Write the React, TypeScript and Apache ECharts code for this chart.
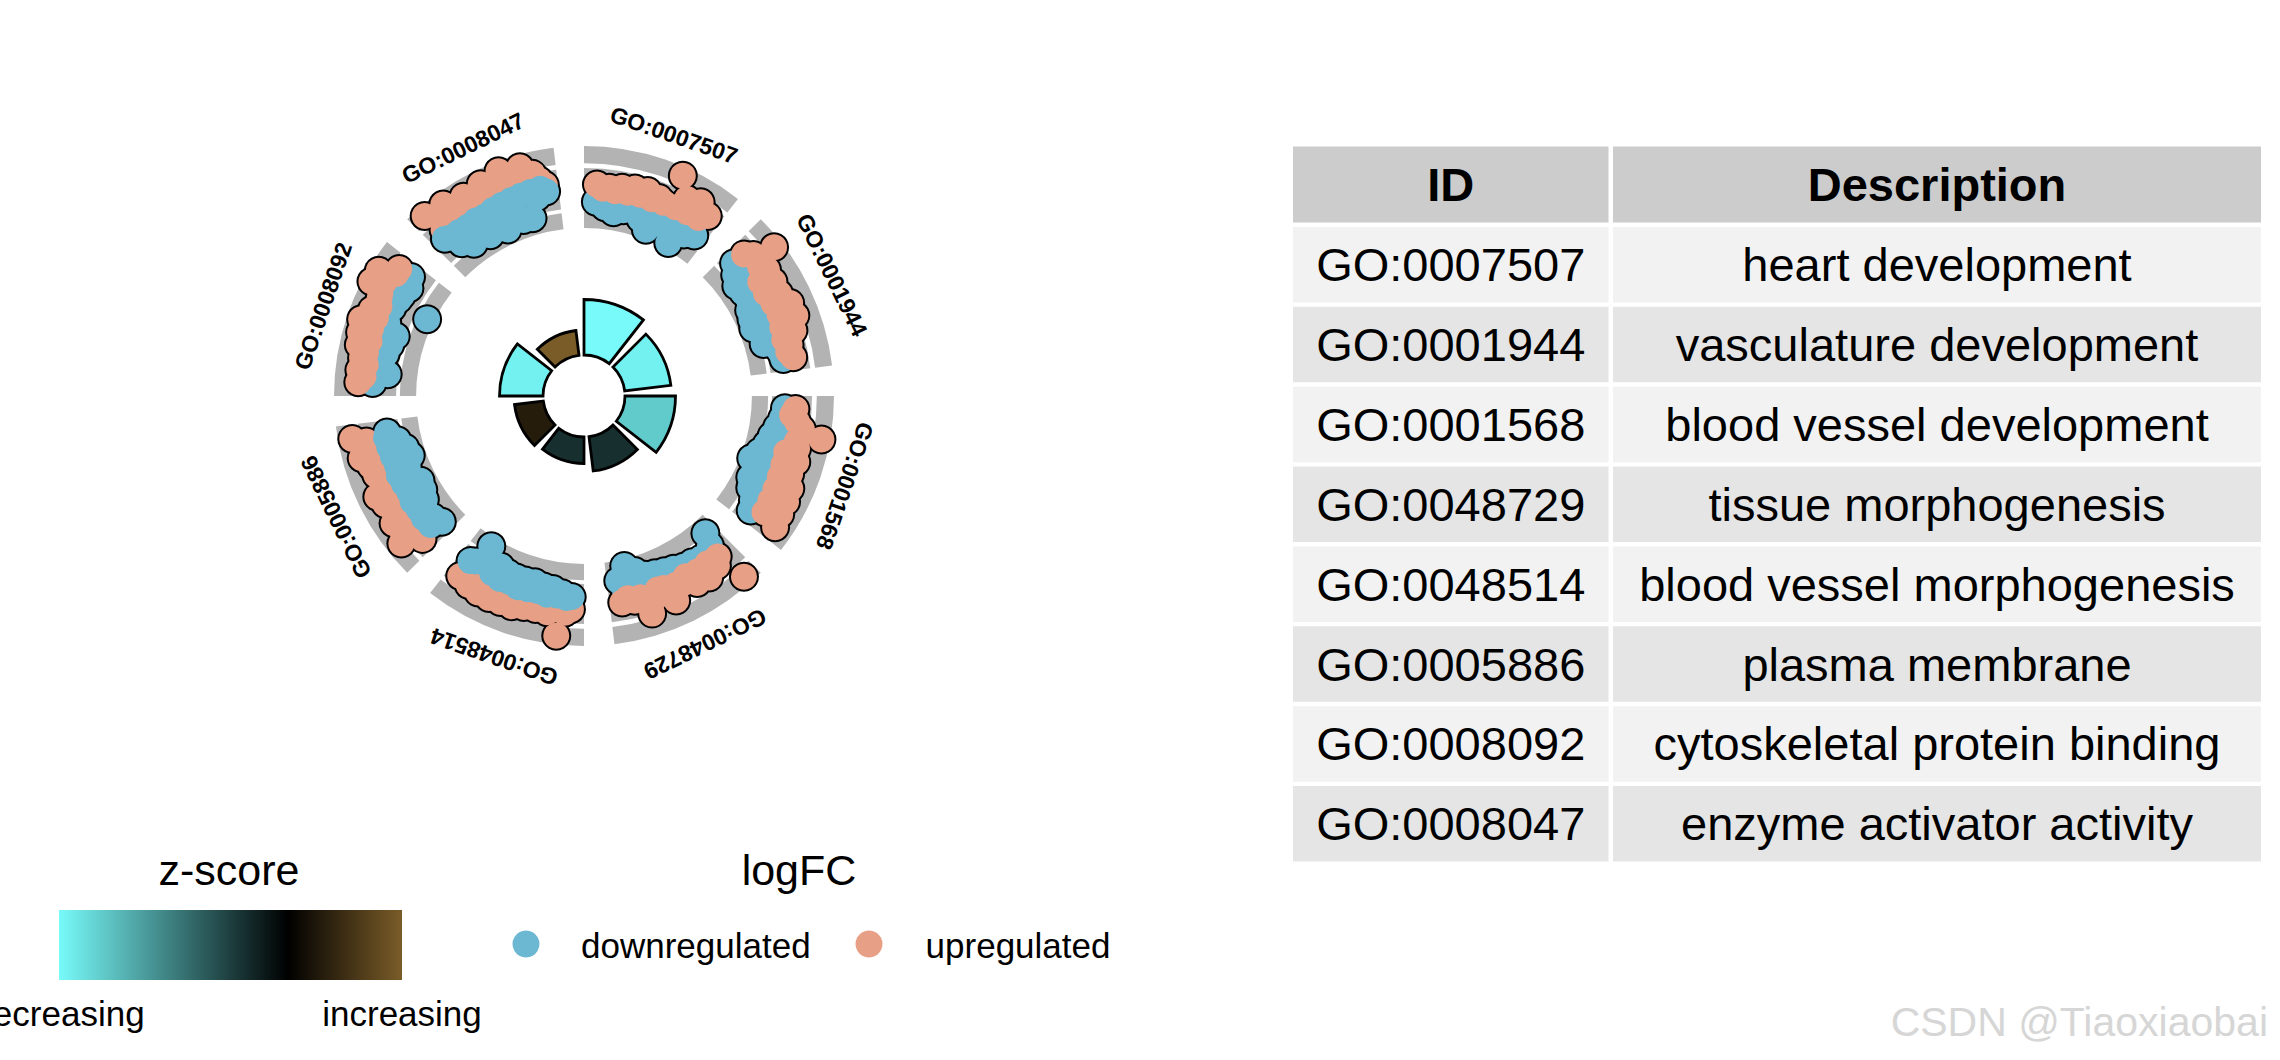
import React, { useEffect, useRef } from "react";
import * as echarts from "echarts";

// ---------------- Data ----------------
const TERM_IDS = [
  "GO:0007507",
  "GO:0001944",
  "GO:0001568",
  "GO:0048729",
  "GO:0048514",
  "GO:0005886",
  "GO:0008092",
  "GO:0008047",
];
const TERM_DESCRIPTIONS = [
  "heart development",
  "vasculature development",
  "blood vessel development",
  "tissue morphogenesis",
  "blood vessel morphogenesis",
  "plasma membrane",
  "cytoskeletal protein binding",
  "enzyme activator activity",
];
// inner bar height of each term
const BAR_HEIGHT = [5.55, 4.65, 5.05, 3.45, 2.65, 2.9, 4.35, 2.5];
// z-score of each term (bar colour)
const Z_SCORE = [-4.0, -3.84, -3.24, -0.76, -0.76, 0.6, -3.84, 2.0];
// which group of genes lies on top in each term's cluster
const UP_ON_TOP = [true, true, true, true, false, false, true, false];

// logFC of the genes of each term, in their order around the circle
const UP_LOGFC = [
  [0.9, 0.5, 0.7, 0.4, 0.9, 0.5, 1.1, 0.6, 1.2, 0.5, 0.9, 0.6, 4.0, 0.7, 2.0, 0.8, 2.4, 0.9, 1.6],
  [1.1, 1.8, 4.0, 1.6, 2.0, 0.7, 1.9, 0.6, 1.8, 0.8, 2.4, 0.9, 2.4, 0.7, 1.7, 0.5, 0.9, 0.6, 1.0],
  [0.9, 0.6, 1.2, 1.8, 4.0, 1.5, 1.7, 0.7, 2.0, 0.8, 1.8, 0.9, 2.4, 1.0, 2.6, 1.1, 2.7, 1.2, 3.0],
  [4.0, 0.6, 1.3, 0.5, 1.8, 0.6, 1.6, 0.4, 0.9, 0.7, 2.2, 0.5, 0.4, 1.2, 2.6, 0.6, 0.8, 0.4, 0.7],
  [1.1, 1.5, 4.0, 1.3, 1.7, 0.7, 1.6, 0.8, 1.7, 0.7, 2.0, 0.9, 2.0, 0.8, 2.1, 1.0, 2.1, 0.8, 1.9, 0.9, 1.6],
  [1.3, 0.8, 3.3, 1.2, 2.4, 0.9, 2.7, 1.0, 1.1, 1.5, 2.4, 0.8, 2.8, 1.0, 0.9, 1.4, 2.0, 0.9, 2.2, 1.1, 2.9, 1.0, 1.1, 2.0, 3.4],
  [2.4, 1.9, 2.4, 1.8, 2.3, 2.0, 2.9, 1.9, 3.1, 2.1, 3.4, 2.0, 2.7, 2.1, 2.4, 2.6, 4.0, 2.8, 3.9, 2.2, 2.2],
  [3.9, 1.5, 2.4, 1.3, 3.6, 1.2, 2.0, 1.4, 3.1, 1.2, 1.8, 1.3, 3.4, 1.4, 2.2, 1.6, 3.9, 1.8, 2.3, 1.9, 3.6, 2.0, 2.6, 1.8, 1.2],
];
const DOWN_LOGFC = [
  [-0.9, -0.4, -1.4, -0.5, -1.8, -0.3, -1.4, -0.6, -1.2, -0.4, -1.8, -0.5, -2.7, -0.6, -1.1, -0.4, -1.6, -0.7, -3.0, -0.6, -1.4, -0.4, -0.9],
  [-0.3, -0.2, -1.0, -0.3, -1.6, -0.4, -1.4, -0.2, -1.3, -0.4, -1.8, -0.3, -2.0, -0.5, -2.2, -0.3, -0.9, -0.2, -1.7, -0.4, -0.3, -0.1, -0.05],
  [-0.2, -0.1, -0.4, -0.2, -0.8, -0.3, -1.2, -0.2, -1.5, -0.4, -2.0, -0.3, -2.6, -0.5, -0.8, -0.2, -1.9, -0.4, -1.4, -0.2, -0.5, -0.05, -0.1],
  [-2.1, -0.8, -0.1, -0.2, -0.3, -0.1, -0.5, -0.2, -0.6, -0.3, -0.9, -0.2, -1.1, -0.3, -1.3, -0.4, -1.5, -0.3, -2.2, -0.6, -3.0, -0.5, -1.6],
  [-0.2, -0.05, -0.5, -0.2, -0.8, -0.1, -0.9, -0.3, -1.1, -0.2, -1.0, -0.1, -1.0, -0.3, -1.1, -0.2, -1.4, -0.4, -1.0, -1.6, -2.8, -0.6, -0.3],
  [-1.4, -0.3, -1.0, -0.2, -0.8, -0.3, -1.4, -0.2, -1.8, -0.4, -2.0, -0.3, -1.2, -0.2, -1.4, -0.4, -2.1, -0.3, -1.8, -0.2, -1.2, -0.1, -0.3],
  [0.9, 1.0, -0.6, 1.0, 0.2, 1.1, -0.05, 1.0, -0.3, 0.9, -0.6, 1.0, 0.7, 1.2, 1.1, 0.8, -3.0, 0.6, 0.5, 1.0, 0.2, 0.9, 0.7],
  [0.7, 0.4, -0.8, 0.3, -1.6, 0.2, -0.3, 0.3, -1.8, 0.2, -0.5, 0.4, -2.1, 0.5, -0.8, 0.6, -1.8, 0.7, -1.9, 0.8, 0.1, 0.9, 0.5],
];
// grey guide bands of the gene ring (logFC units)
const BAND_RANGES = [
  [-3.7, -2.0],
  [-1.6, 2.6],
  [3.1, 4.9],
];
const TABLE_HEADER = ["ID", "Description"];
const Z_LEGEND_TITLE = "z-score";
const Z_LEGEND_LABELS = ["decreasing", "increasing"];
const LFC_LEGEND_TITLE = "logFC";
const LFC_LEGEND_LABELS = ["downregulated", "upregulated"];
const WATERMARK = "CSDN @Tiaoxiaobai";

// ---------------- Styles / layout ----------------
const FONT = "'Liberation Sans', Arial, Helvetica, sans-serif";
const CX = 584;
const CY = 396;
const SECTOR_STEP = 45;
const SECTOR_SPAN = 38;
const GENE_PAD = 3.5;
const LABEL_R = 7.62;
const UP_COLOR = "#E79F86";
const DOWN_COLOR = "#6CB7D2";
const BAND_COLOR = "#B3B3B3";
const Z_COLORS = ["#78FAFA", "#3C7D7D", "#000000", "#7A5C28"];
const Z_MIN = -4;
const Z_MAX = 2;

function polarSector(params: any, api: any, rIn: number, rOut: number, a0: number, a1: number) {
  const cs = params.coordSys;
  const cx = cs.cx;
  const cy = cs.cy;
  const pIn = api.coord([rIn, a0]);
  const pOut = api.coord([rOut, a0]);
  const pEnd = api.coord([rOut, a1]);
  const r0 = Math.hypot(pIn[0] - cx, pIn[1] - cy);
  const r = Math.hypot(pOut[0] - cx, pOut[1] - cy);
  const t0 = Math.atan2(pOut[1] - cy, pOut[0] - cx);
  let t1 = Math.atan2(pEnd[1] - cy, pEnd[0] - cx);
  while (t1 <= t0) t1 += Math.PI * 2;
  return { cx, cy, r0, r, startAngle: t0, endAngle: t1, clockwise: true };
}

export default function App() {
  const ref = useRef<HTMLDivElement>(null);

  useEffect(() => {
    if (!ref.current) return;
    const chart = echarts.init(ref.current, null, { renderer: "svg" });

    const starts = TERM_IDS.map((_, k) => k * SECTOR_STEP);

    const bandData: number[][] = [];
    starts.forEach((s) =>
      BAND_RANGES.forEach(([a, b]) => bandData.push([a, b, s, s + SECTOR_SPAN]))
    );
    const barData = BAR_HEIGHT.map((h, k) => [h, starts[k], starts[k] + SECTOR_SPAN, Z_SCORE[k]]);

    const genes: { angle: number; lfc: number; color: string }[] = [];
    const spread = (vals: number[], s: number, color: string) =>
      vals.forEach((v, i) =>
        genes.push({
          angle: s + GENE_PAD + (i * (SECTOR_SPAN - 2 * GENE_PAD)) / (vals.length - 1),
          lfc: v,
          color,
        })
      );
    starts.forEach((s, k) => {
      if (UP_ON_TOP[k]) {
        spread(DOWN_LOGFC[k], s, DOWN_COLOR);
        spread(UP_LOGFC[k], s, UP_COLOR);
      } else {
        spread(UP_LOGFC[k], s, UP_COLOR);
        spread(DOWN_LOGFC[k], s, DOWN_COLOR);
      }
    });

    const labelData = starts.map((s) => [LABEL_R, s + SECTOR_SPAN / 2]);

    // ---------- graphic: legend, table, watermark ----------
    const g: any[] = [];
    const txt = (x: number, y: number, text: string, size: number, extra: any = {}) => ({
      type: "text",
      x,
      y,
      silent: true,
      style: {
        text,
        fontSize: size,
        fontFamily: FONT,
        fill: "#000",
        align: "center",
        verticalAlign: "middle",
        ...extra,
      },
    });

    // table
    const TX = 1293;
    const COL1_W = 315.5;
    const COL_GAP = 4.5;
    const COL2_W = 648;
    const HEAD_Y = 146.6;
    const HEAD_H = 75.8;
    const ROW_Y0 = 227;
    const ROW_PITCH = 79.86;
    const ROW_H = 75.5;
    const C1 = TX + COL1_W / 2;
    const C2 = TX + COL1_W + COL_GAP + COL2_W / 2;
    g.push({ type: "rect", silent: true, shape: { x: TX, y: HEAD_Y, width: COL1_W, height: HEAD_H }, style: { fill: "#CCCCCC" } });
    g.push({ type: "rect", silent: true, shape: { x: TX + COL1_W + COL_GAP, y: HEAD_Y, width: COL2_W, height: HEAD_H }, style: { fill: "#CCCCCC" } });
    g.push(txt(C1, HEAD_Y + HEAD_H / 2, TABLE_HEADER[0], 47, { fontWeight: "bold" }));
    g.push(txt(C2, HEAD_Y + HEAD_H / 2, TABLE_HEADER[1], 47, { fontWeight: "bold" }));
    TERM_IDS.forEach((id, i) => {
      const y = ROW_Y0 + i * ROW_PITCH;
      const fill = i % 2 === 0 ? "#F2F2F2" : "#E5E5E5";
      g.push({ type: "rect", silent: true, shape: { x: TX, y, width: COL1_W, height: ROW_H }, style: { fill } });
      g.push({ type: "rect", silent: true, shape: { x: TX + COL1_W + COL_GAP, y, width: COL2_W, height: ROW_H }, style: { fill } });
      g.push(txt(C1, y + ROW_H / 2, id, 47));
      g.push(txt(C2, y + ROW_H / 2, TERM_DESCRIPTIONS[i], 47));
    });

    // z-score legend
    g.push(txt(229, 870, Z_LEGEND_TITLE, 43));
    g.push({
      type: "rect",
      silent: true,
      shape: { x: 59, y: 910, width: 343, height: 70 },
      style: {
        fill: new echarts.graphic.LinearGradient(0, 0, 1, 0, [
          { offset: 0, color: Z_COLORS[0] },
          { offset: (0 - Z_MIN) / (Z_MAX - Z_MIN), color: Z_COLORS[2] },
          { offset: 1, color: Z_COLORS[3] },
        ]),
      },
    });
    g.push(txt(59, 1013, Z_LEGEND_LABELS[0], 35));
    g.push(txt(402, 1013, Z_LEGEND_LABELS[1], 35));

    // logFC legend
    g.push(txt(799, 870, LFC_LEGEND_TITLE, 43));
    g.push({ type: "circle", silent: true, shape: { cx: 526, cy: 944, r: 13.5 }, style: { fill: DOWN_COLOR } });
    g.push(txt(581, 945, LFC_LEGEND_LABELS[0], 35, { align: "left" }));
    g.push({ type: "circle", silent: true, shape: { cx: 869, cy: 944, r: 13.5 }, style: { fill: UP_COLOR } });
    g.push(txt(925.6, 945, LFC_LEGEND_LABELS[1], 35, { align: "left" }));

    // watermark
    g.push(txt(2268, 1022, WATERMARK, 41, { align: "right", fill: "#D6D6D6" }));

    const hiddenAxis = {
      show: false,
      axisLine: { show: false },
      axisTick: { show: false },
      axisLabel: { show: false },
      splitLine: { show: false },
    };

    chart.setOption({
      animation: false,
      backgroundColor: "#FFFFFF",
      polar: [
        { center: [CX, CY], radius: [41, 101] },
        { center: [CX, CY], radius: [166, 250] },
      ],
      angleAxis: [
        { polarIndex: 0, type: "value", min: 0, max: 360, startAngle: 90, clockwise: true, ...hiddenAxis },
        { polarIndex: 1, type: "value", min: 0, max: 360, startAngle: 90, clockwise: true, ...hiddenAxis },
      ],
      radiusAxis: [
        { polarIndex: 0, type: "value", min: 0, max: 6, ...hiddenAxis },
        { polarIndex: 1, type: "value", min: -3.9, max: 4.9, ...hiddenAxis },
      ],
      visualMap: {
        type: "continuous",
        show: false,
        min: Z_MIN,
        max: Z_MAX,
        dimension: 3,
        seriesIndex: 1,
        inRange: { color: Z_COLORS },
      },
      graphic: { elements: g },
      series: [
        {
          type: "custom",
          coordinateSystem: "polar",
          polarIndex: 1,
          silent: true,
          clip: false,
          data: bandData,
          renderItem: (params: any, api: any) => ({
            type: "sector",
            shape: polarSector(params, api, api.value(0), api.value(1), api.value(2), api.value(3)),
            style: { fill: BAND_COLOR },
          }),
        },
        {
          type: "custom",
          coordinateSystem: "polar",
          polarIndex: 0,
          silent: true,
          clip: false,
          data: barData,
          renderItem: (params: any, api: any) => ({
            type: "sector",
            shape: polarSector(params, api, 0, api.value(0), api.value(1), api.value(2)),
            style: { fill: api.visual("color"), stroke: "#000000", lineWidth: 2.8 },
          }),
        },
        {
          type: "scatter",
          coordinateSystem: "polar",
          polarIndex: 1,
          silent: true,
          symbol: "circle",
          symbolSize: 30,
          itemStyle: { color: "#000000", borderWidth: 0, opacity: 1 },
          data: genes.map((p) => [p.lfc, p.angle]),
        },
        {
          type: "scatter",
          coordinateSystem: "polar",
          polarIndex: 1,
          silent: true,
          symbol: "circle",
          symbolSize: 26,
          itemStyle: { borderWidth: 0, opacity: 1 },
          data: genes.map((p) => ({ value: [p.lfc, p.angle], itemStyle: { color: p.color } })),
        },
        {
          type: "custom",
          coordinateSystem: "polar",
          polarIndex: 1,
          silent: true,
          clip: false,
          data: labelData,
          renderItem: (params: any, api: any) => {
            const a = api.value(1);
            const pt = api.coord([api.value(0), a]);
            return {
              type: "text",
              x: pt[0],
              y: pt[1],
              rotation: (-a * Math.PI) / 180,
              style: {
                text: TERM_IDS[params.dataIndex],
                fontSize: 23,
                fontWeight: "bold",
                fontFamily: FONT,
                fill: "#000000",
                align: "center",
                verticalAlign: "middle",
              },
            };
          },
        },
      ],
    });

    return () => chart.dispose();
  }, []);

  return (
    <div
      ref={ref}
      style={{ position: "fixed", left: 0, top: 0, width: 2280, height: 1060, background: "#fff" }}
    />
  );
}
